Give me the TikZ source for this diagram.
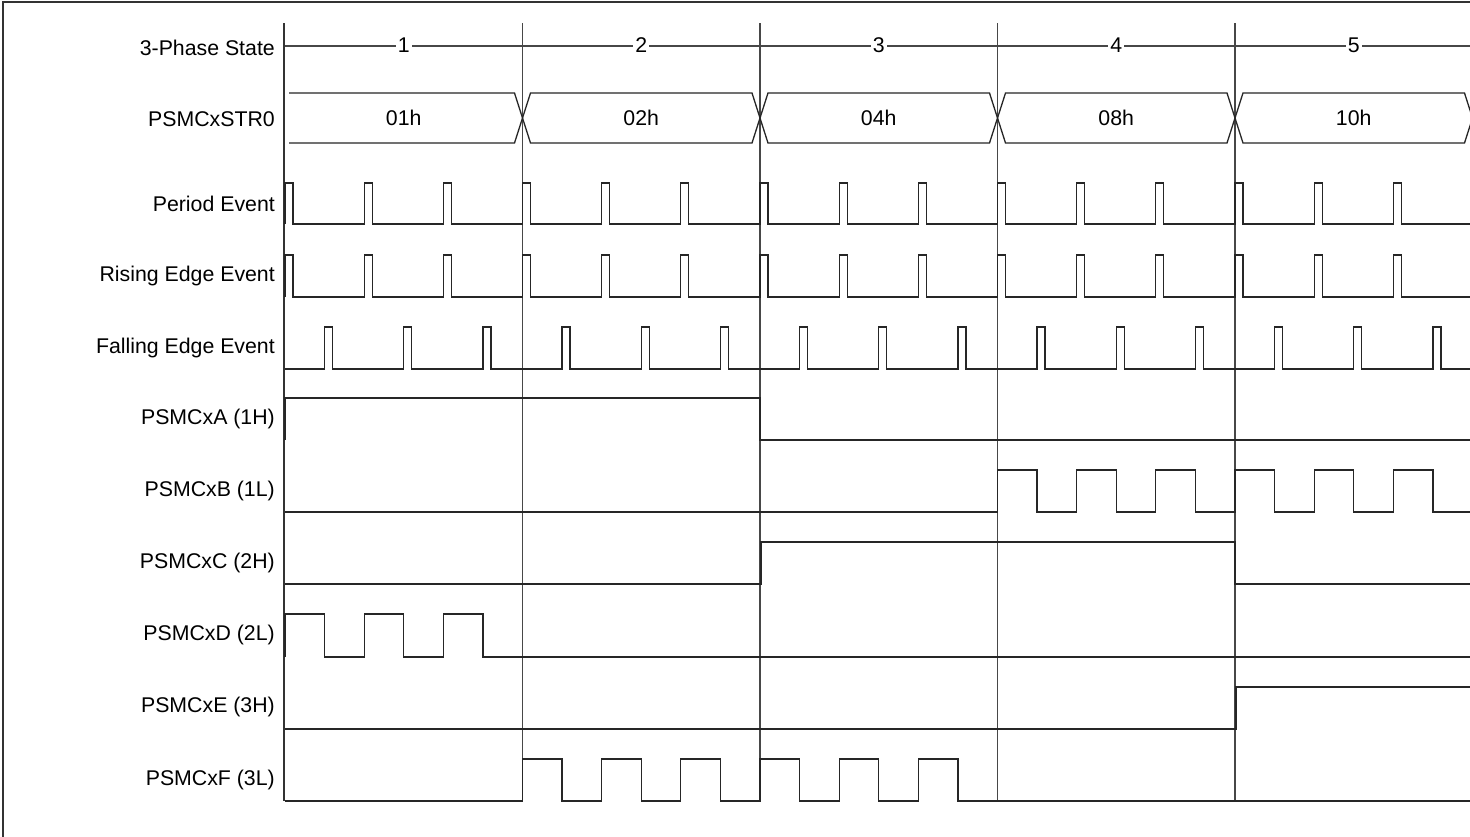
\documentclass[tikz,border=0pt]{standalone}
\usepackage{fontspec}
\setmainfont{Liberation Sans}
\begin{document}
\begin{tikzpicture}[x=1pt,y=-1pt,
  sig/.style={line width=1.3pt, black!85, line join=miter},
  gridline/.style={line width=1.1pt, black!72},
  lab/.style={anchor=east, inner sep=0pt, font=\fontsize{21.3}{25}\selectfont},
  val/.style={inner sep=0pt, font=\fontsize{21.3}{25}\selectfont},
  num/.style={fill=white, inner xsep=2pt, inner ysep=0pt, font=\fontsize{21.3}{25}\selectfont}]
\clip (0,0) rectangle (1470,836);
\fill[white] (0,0) rectangle (1470,836);
% frame
\draw[line width=1.2pt, black!80] (3,2) rectangle (1500,900);
% dividers and axis
\foreach \i in {1,...,4} \draw[gridline] ({285+237.5*\i},23) -- ({285+237.5*\i},801);
\draw[line width=2pt, black!80] (284,23) -- (284,801);
% labels
\node[lab] (l3p) at (275,48) {3-Phase State};
\node[lab] (lstr) at (275,119) {PSMCxSTR0};
\node[lab] (lper) at (275,204) {Period Event};
\node[lab] (lris) at (275,276) {Rising Edge Event};
\node[lab] (lfal) at (275,348) {Falling Edge Event};
\node[lab] (la) at (275,419) {PSMCxA (1H)};
\node[lab] (lb) at (275,491) {PSMCxB (1L)};
\node[lab] (lc) at (275,563) {PSMCxC (2H)};
\node[lab] (ld) at (275,635) {PSMCxD (2L)};
\node[lab] (le) at (275,707) {PSMCxE (3H)};
\node[lab] (lf) at (275,780) {PSMCxF (3L)};
% 3-phase state
\draw[gridline] (285,46) -- (1480,46);
\foreach \i/\t in {0/1,1/2,2/3,3/4,4/5}
  \node[num] (ph\t) at ({285+237.5*\i+118.75},45) {\t};
% STR0 bus
\draw[sig] (289,93) -- (514.5,93) -- (522.5,118) -- (514.5,143) -- (289,143);
\foreach \i in {1,...,4}
  \draw[sig] ({285+237.5*\i+8},93) -- ({285+237.5*(\i+1)-8},93) -- ({285+237.5*(\i+1)},118)
    -- ({285+237.5*(\i+1)-8},143) -- ({285+237.5*\i+8},143) -- ({285+237.5*\i},118) -- cycle;
\foreach \i/\t in {0/01h,1/02h,2/04h,3/08h,4/10h}
  \node[val] (v\i) at ({285+237.5*\i+118.75},118) {\t};
% Period Event
\draw[sig] (285,224) \foreach \k in {0,...,14}{ -- ({285+79.1667*\k},224) -- ++(0,-41) -- ++(8,0) -- ++(0,41)} -- (1480,224);
% Rising Edge Event
\draw[sig] (285,297) \foreach \k in {0,...,14}{ -- ({285+79.1667*\k},297) -- ++(0,-42) -- ++(8,0) -- ++(0,42)} -- (1480,297);
% Falling Edge Event
\draw[sig] (285,369) \foreach \k in {0,...,14}{ -- ({324.6+79.1667*\k},369) -- ++(0,-42) -- ++(8,0) -- ++(0,42)} -- (1480,369);
% A
\draw[sig] (285,440) -- (285,398) -- (760,398) -- (760,440) -- (1480,440);
% B
\draw[sig] (285,512) \foreach \k in {0,...,5}{ -- ({997.5+79.1667*\k},512) -- ++(0,-42) -- ++(39.58,0) -- ++(0,42)} -- (1480,512);
% C
\draw[sig] (285,584) -- (761,584) -- (761,542) -- (1235,542) -- (1235,584) -- (1480,584);
% D
\draw[sig] (285,657) \foreach \k in {0,...,2}{ -- ({285+79.1667*\k},657) -- ++(0,-43) -- ++(39.58,0) -- ++(0,43)} -- (1480,657);
% E
\draw[sig] (285,729) -- (1236,729) -- (1236,687) -- (1480,687);
% F
\draw[sig] (285,801) \foreach \k in {0,...,5}{ -- ({522.5+79.1667*\k},801) -- ++(0,-42) -- ++(39.58,0) -- ++(0,42)} -- (1480,801);
\end{tikzpicture}
\end{document}
